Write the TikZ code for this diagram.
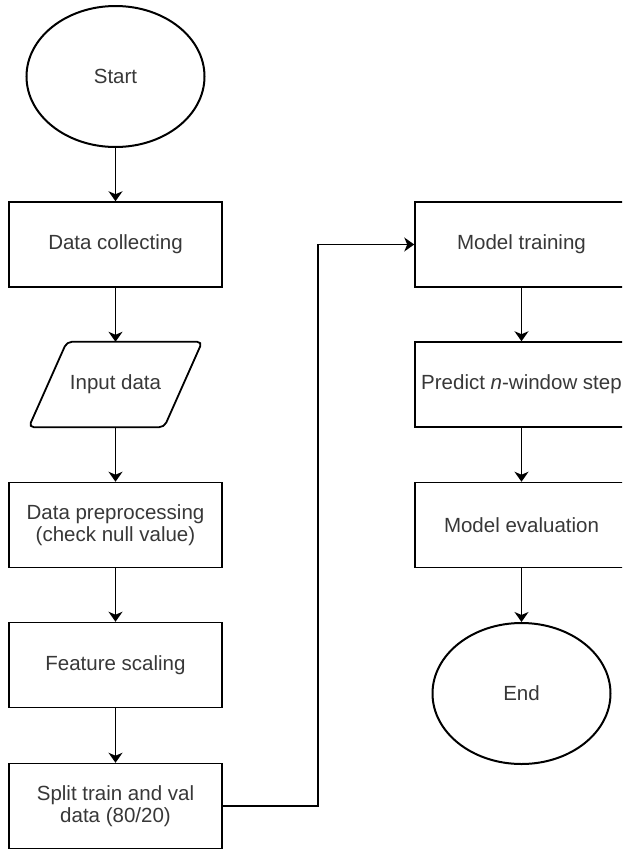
\documentclass[tikz,border=0pt]{standalone}
\usepackage{fontspec}
\setmainfont{Liberation Sans}
\usetikzlibrary{shapes.geometric,arrows.meta}

\begin{document}
\begin{tikzpicture}[x=1pt,y=-1pt,>={Stealth[length=10pt,width=14pt,inset=3pt]},
                flowtext/.style={text=black!78,font=\fontsize{20.5}{22}\selectfont,align=center},
                procbox/.style={flowtext,draw,line width=1.5pt,minimum width=213pt,minimum height=85pt,inner sep=0pt},
                termbox/.style={flowtext,draw,ellipse,line width=2pt,minimum width=178pt,minimum height=141pt,inner sep=0pt},
                iobox/.style={flowtext,minimum width=135pt,minimum height=85pt,inner sep=0pt},
                ioline/.style={draw,rounded corners=5pt,line width=1.8pt},
                flowline/.style={->,line width=1.5pt}]
                \clip (0,0) rectangle (622,849);
                \fill[white] (0,0) rectangle (622,849);

                \node[termbox] (start) at(115.5,76.5) {Start};
                \node[procbox] (collect) at(115.5,244.5) {Data collecting};
                \node[iobox] (input) at(115.5,384.5) {Input data};
                \node[procbox] (prep) at(115.5,525) {Data preprocessing\\(check null value)};
                \node[procbox] (scale) at(115.5,665) {Feature scaling};
                \node[procbox] (split) at(115.5,806) {Split train and val\\data (80/20)};

                \node[procbox] (train) at(521.5,244.5) {Model training};
                \node[procbox] (predict) at(521.5,384.5) {Predict \textit{n}-window step};
                \node[procbox] (eval) at(521.5,525) {Model evaluation};
                \node[termbox] (finish) at(521.5,693.5) {End};

                \draw[ioline] ([xshift=19pt]input.north west) -- ([xshift=19pt]input.north east)
                    -- ([xshift=-19pt]input.south east) -- ([xshift=-19pt]input.south west) -- cycle;

                \coordinate (bend) at(318,806);

                \draw[flowline] (start) -- (collect);
                \draw[flowline] (collect) -- (input);
                \draw[flowline] (input) -- (prep);
                \draw[flowline] (prep) -- (scale);
                \draw[flowline] (scale) -- (split);
                \draw[flowline] (split.east) -- (bend) |- (train.west);
                \draw[flowline] (train) -- (predict);
                \draw[flowline] (predict) -- (eval);
                \draw[flowline] (eval) -- (finish);
            \end{tikzpicture}
\end{document}
